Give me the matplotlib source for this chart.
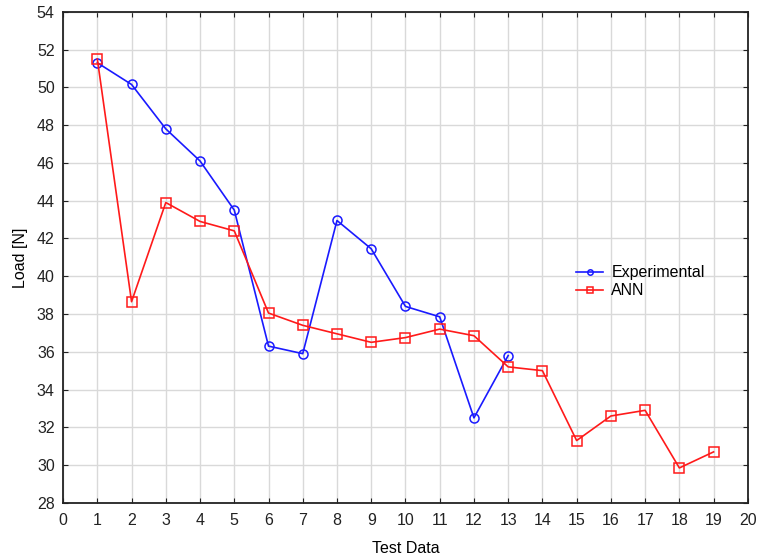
import matplotlib
matplotlib.use("Agg")
import matplotlib.pyplot as plt

plt.rcParams['font.family'] = ['Liberation Sans', 'DejaVu Sans']

exp_x = list(range(1, 14))
exp_y = [51.3, 50.15, 47.8, 46.1, 43.5, 36.3, 35.9, 42.95, 41.45, 38.4, 37.85, 32.5, 35.8]
ann_x = list(range(1, 20))
ann_y = [51.5, 38.65, 43.9, 42.9, 42.4, 38.05, 37.4, 36.95, 36.5, 36.75, 37.2, 36.85,
         35.2, 35.0, 31.3, 32.6, 32.9, 29.85, 30.7]
x_ticks = list(range(0, 21))
y_ticks = list(range(28, 55, 2))

fig = plt.figure(figsize=(7.6, 5.6), dpi=100)
ax = fig.add_axes([0.083, 0.102, 0.901, 0.877])

ax.plot(exp_x, exp_y, color='#1a1aff', lw=1.2, marker='o', ms=6.5, mfc='none',
        mec='#1a1aff', mew=1.1, label='Experimental', zorder=3)
ax.plot(ann_x, ann_y, color='#ff1a1a', lw=1.2, marker='s', ms=6.5, mfc='none',
        mec='#ff1a1a', mew=1.1, label='ANN', zorder=3)

ax.set_xlim(0, 20)
ax.set_ylim(28, 54)
ax.set_xticks(x_ticks)
ax.set_yticks(y_ticks)
ax.grid(True, color='#d9d9d9', lw=1.0)
ax.set_axisbelow(True)
for s in ax.spines.values():
    s.set_color('#222222')
    s.set_linewidth(1.3)
ax.tick_params(axis='both', labelsize=11.5, colors='#222222', length=3.5,
               top=True, right=True, direction='in')
ax.tick_params(axis='x', pad=7)
ax.tick_params(axis='y', pad=6)
ax.tick_params(labeltop=False, labelright=False)
ax.set_xlabel('Test Data', fontsize=11.5, labelpad=10)
ax.set_ylabel('Load [N]', fontsize=11.5, labelpad=6)

leg = ax.legend(loc='upper left', bbox_to_anchor=(0.74, 0.497), frameon=False,
                fontsize=11.5, handlelength=1.7, markerscale=0.6,
                handletextpad=0.5, labelspacing=0.2, borderaxespad=0)

fig.savefig('out.png', dpi=100)
